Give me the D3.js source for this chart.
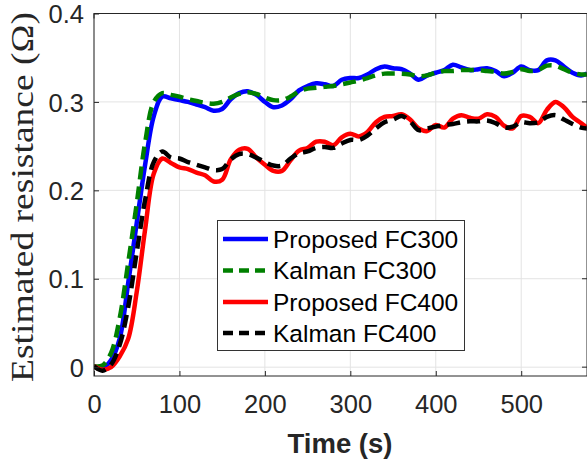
<!DOCTYPE html>
<html>
<head>
<meta charset="utf-8">
<script src="https://cdn.jsdelivr.net/npm/d3@7"></script>
<style>
  html, body { margin: 0; padding: 0; background: #fff; }
  svg { display: block; }
</style>
</head>
<body>
<svg id="chart" width="587" height="463"></svg>
<script>
// Sample times (s)
const time = [0,10,20,30,40,50,60,70,80,90,100,110,120,130,140,150,160,170,180,190,200,
  210,220,230,240,250,260,270,280,290,300,310,320,330,340,350,360,370,380,390,400,
  410,420,430,440,450,460,470,480,490,500,510,520,530,540,550,560,570,577];

// Estimated resistance (ohm) for each method / fuel cell
const proposedFC300 = [0.001,-0.001,0.008,0.032,0.095,0.163,0.230,0.284,0.306,0.304,0.302,
  0.300,0.297,0.294,0.290,0.292,0.303,0.310,0.312,0.308,0.300,0.294,0.296,0.303,0.313,
  0.318,0.321,0.320,0.318,0.325,0.327,0.327,0.331,0.337,0.340,0.338,0.337,0.332,0.325,
  0.330,0.333,0.336,0.342,0.339,0.336,0.337,0.338,0.335,0.329,0.333,0.340,0.336,0.336,
  0.347,0.347,0.340,0.333,0.330,0.332];
const kalmanFC300 = [0.001,0.002,0.016,0.055,0.118,0.185,0.255,0.300,0.310,0.308,0.306,
  0.303,0.301,0.299,0.298,0.300,0.305,0.309,0.311,0.309,0.305,0.302,0.302,0.306,0.312,
  0.315,0.316,0.317,0.318,0.320,0.322,0.324,0.327,0.330,0.332,0.332,0.332,0.331,0.329,
  0.330,0.333,0.335,0.335,0.336,0.336,0.336,0.335,0.334,0.332,0.334,0.337,0.335,0.336,
  0.341,0.341,0.337,0.333,0.331,0.331];
const proposedFC400 = [0.001,-0.003,0.000,0.012,0.032,0.085,0.157,0.219,0.236,0.231,0.226,
  0.224,0.220,0.217,0.210,0.212,0.235,0.246,0.247,0.237,0.229,0.222,0.222,0.234,0.245,
  0.248,0.255,0.255,0.251,0.260,0.264,0.261,0.266,0.277,0.283,0.284,0.286,0.280,0.270,
  0.267,0.274,0.271,0.281,0.285,0.282,0.281,0.286,0.283,0.273,0.270,0.284,0.283,0.276,
  0.291,0.300,0.294,0.283,0.276,0.271];
const kalmanFC400 = [0.001,-0.004,0.003,0.025,0.068,0.130,0.190,0.232,0.244,0.237,0.236,
  0.232,0.229,0.226,0.223,0.224,0.235,0.241,0.241,0.237,0.232,0.228,0.228,0.236,0.242,
  0.244,0.248,0.249,0.248,0.253,0.257,0.257,0.262,0.270,0.277,0.280,0.284,0.278,0.268,
  0.270,0.272,0.274,0.275,0.277,0.278,0.278,0.279,0.276,0.271,0.272,0.277,0.276,0.277,
  0.283,0.285,0.280,0.275,0.271,0.270];

const xTicks = [0,100,200,300,400,500];
const yTicks = [0,0.1,0.2,0.3,0.4];

const seriesNames = ["Proposed FC300","Kalman FC300","Proposed FC400","Kalman FC400"];
const seriesColors = ["#0000ff","#008000","#ff0000","#000000"];
const seriesDash = [null,"13,7",null,"13,7"];
const seriesValues = [proposedFC300,kalmanFC300,proposedFC400,kalmanFC400];

const svg = d3.select("#chart");
const axisColor = "#262626";

const x = d3.scaleLinear().domain([0,577]).range([94,587]);
const y = d3.scaleLinear().domain([-0.01,0.4]).range([376,13.5]);

// grid
const grid = svg.append("g");
grid.selectAll("line.gx").data(xTicks).join("line")
  .attr("x1", d => x(d)).attr("x2", d => x(d))
  .attr("y1", y.range()[0]).attr("y2", y.range()[1])
  .attr("stroke", "#e3e3e3").attr("stroke-width", 1);
grid.selectAll("line.gy").data(yTicks).join("line")
  .attr("y1", d => y(d)).attr("y2", d => y(d))
  .attr("x1", x.range()[0]).attr("x2", x.range()[1])
  .attr("stroke", "#e3e3e3").attr("stroke-width", 1);

// data lines
const clipId = "plotclip";
svg.append("clipPath").attr("id", clipId).append("rect")
  .attr("x", x.range()[0]).attr("y", y.range()[1])
  .attr("width", x.range()[1]-x.range()[0]).attr("height", y.range()[0]-y.range()[1]);

const line = d3.line().curve(d3.curveCatmullRom.alpha(0.5));
const plot = svg.append("g").attr("clip-path", `url(#${clipId})`);
seriesValues.forEach((vals, i) => {
  plot.append("path")
    .datum(time.map((t, k) => [x(t), y(vals[k])]))
    .attr("d", line)
    .attr("fill", "none")
    .attr("stroke", seriesColors[i])
    .attr("stroke-width", 4.5)
    .attr("stroke-dasharray", seriesDash[i])
    .attr("stroke-linejoin", "round");
});

// axes (box with inward ticks)
const xAxisB = d3.axisBottom(x).tickValues(xTicks).tickSizeInner(-5).tickSizeOuter(0).tickPadding(14)
  .tickFormat(d3.format("d"));
const gx = svg.append("g").attr("transform", `translate(0,${y.range()[0]})`).call(xAxisB);
gx.select(".domain").remove();
gx.selectAll(".tick line").attr("stroke", axisColor);
gx.selectAll(".tick text").attr("fill", axisColor)
  .style("font-family", "Liberation Sans, Arial, sans-serif").style("font-size", "25.5px")
  .attr("dy", null).attr("y", 37);

const yAxisL = d3.axisLeft(y).tickValues(yTicks).tickSizeInner(-5).tickSizeOuter(0).tickPadding(10)
  .tickFormat(d => d === 0 ? "0" : d3.format(".1f")(d));
const gy = svg.append("g").attr("transform", `translate(${x.range()[0]},0)`).call(yAxisL);
gy.select(".domain").remove();
gy.selectAll(".tick line").attr("stroke", axisColor);
gy.selectAll(".tick text").attr("fill", axisColor)
  .style("font-family", "Liberation Sans, Arial, sans-serif").style("font-size", "25.5px")
  .attr("x", -10).attr("dy", "0.36em");

// mirrored ticks on top and right
svg.append("g").selectAll("line").data(xTicks).join("line")
  .attr("x1", d => x(d)).attr("x2", d => x(d))
  .attr("y1", y.range()[1]).attr("y2", y.range()[1] + 5).attr("stroke", axisColor);
svg.append("g").selectAll("line").data(yTicks).join("line")
  .attr("y1", d => y(d)).attr("y2", d => y(d))
  .attr("x1", x.range()[1] - 5).attr("x2", x.range()[1]).attr("stroke", axisColor);

svg.append("rect")
  .attr("x", x.range()[0]).attr("y", y.range()[1])
  .attr("width", x.range()[1]-x.range()[0]).attr("height", y.range()[0]-y.range()[1])
  .attr("fill", "none").attr("stroke", axisColor).attr("stroke-width", 1);

// axis titles
svg.append("text")
  .attr("x", 340).attr("y", 453)
  .attr("text-anchor", "middle")
  .attr("fill", axisColor)
  .style("font-family", "Liberation Sans, Arial, sans-serif")
  .style("font-size", "27.5px").style("font-weight", "bold")
  .text("Time (s)");

svg.append("text")
  .attr("transform", "translate(33,197) rotate(-90)")
  .attr("text-anchor", "middle")
  .attr("fill", axisColor)
  .attr("textLength", 370).attr("lengthAdjust", "spacingAndGlyphs")
  .style("font-family", "Liberation Serif, Times New Roman, serif")
  .style("font-size", "32px")
  .text("Estimated resistance (Ω)");

// legend
const legend = svg.append("g");
legend.append("rect")
  .attr("x", 217.5).attr("y", 220.5).attr("width", 247).attr("height", 130)
  .attr("fill", "#fff").attr("stroke", "#333").attr("stroke-width", 1);
const rowY = [239, 270.5, 302, 333];
seriesNames.forEach((name, i) => {
  legend.append("line")
    .attr("x1", 223).attr("x2", 268).attr("y1", rowY[i]).attr("y2", rowY[i])
    .attr("stroke", seriesColors[i]).attr("stroke-width", 4.5)
    .attr("stroke-dasharray", seriesDash[i] ? "10,6" : null);
  legend.append("text")
    .attr("x", 273).attr("y", rowY[i]).attr("dy", "0.36em")
    .attr("fill", "#000")
    .style("font-family", "Liberation Sans, Arial, sans-serif")
    .style("font-size", "24.5px")
    .text(name);
});
</script>
</body>
</html>
